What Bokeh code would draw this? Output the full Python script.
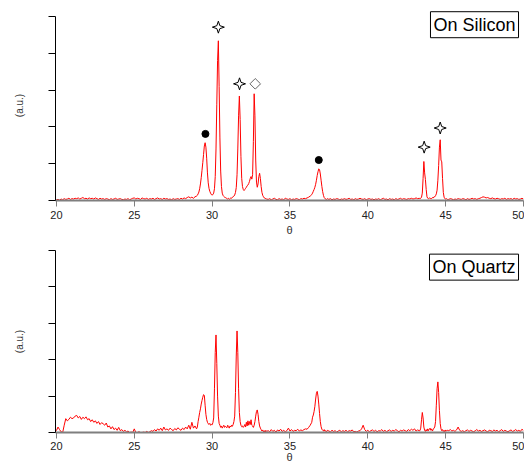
import numpy as np
from bokeh.plotting import figure
from bokeh.layouts import column
from bokeh.models import FixedTicker, Label, Range1d
from bokeh.embed import file_html
from bokeh.resources import INLINE

# ---- sampling grid (2-theta, degrees): coarse on background, fine across peaks ----
seg_a_x = np.round(np.arange(20.0, 29.0001, 0.1), 2)
seg_b_x = np.round(np.arange(29.05, 33.5001, 0.05), 2)
seg_c_x = np.round(np.arange(33.6, 36.4001, 0.1), 2)
seg_d_x = np.round(np.arange(36.45, 37.4001, 0.05), 2)
seg_e_x = np.round(np.arange(37.5, 43.3001, 0.1), 2)
seg_f_x = np.round(np.arange(43.35, 45.1001, 0.05), 2)
seg_g_x = np.round(np.arange(45.2, 50.0001, 0.1), 2)

# ---- film on silicon: intensity (a.u.) ----
si_a = [0.02, 0.03, 0.01, 0.04, 0.02, 0.05, 0.03, 0.04, 0.06, 0.03, 0.05,
        0.04, 0.06, 0.05, 0.07, 0.04, 0.06, 0.08, 0.05, 0.06, 0.04,
        0.07, 0.05, 0.06, 0.04, 0.07, 0.05, 0.03, 0.06, 0.04, 0.05,
        0.03, 0.05, 0.04, 0.02, 0.05, 0.03, 0.04, 0.06, 0.03, 0.04,
        0.05, 0.03, 0.02, 0.04, 0.03, 0.05, 0.02, 0.04, 0.06, 0.07,
        0.04, 0.06, 0.05, 0.03, 0.07, 0.05, 0.04, 0.06, 0.03, 0.05,
        0.04, 0.06, 0.03, 0.05, 0.07, 0.04, 0.05, 0.03, 0.06, 0.04,
        0.05, 0.03, 0.04, 0.02, 0.05, 0.03, 0.04, 0.05, 0.03, 0.06,
        0.04, 0.07, 0.05, 0.08, 0.10, 0.07, 0.09, 0.06, 0.10, 0.12]
si_b = [0.14, 0.18, 0.23, 0.32, 0.45, 0.62, 0.82, 1.03, 1.25, 1.48,
        1.57, 1.45, 1.15, 0.75, 0.48, 0.33, 0.25, 0.20, 0.16, 0.15,
        0.16, 0.20, 0.32, 0.65, 1.40, 2.60, 3.80, 4.34, 3.10, 1.70,
        0.80, 0.38, 0.20, 0.14, 0.11, 0.09, 0.08, 0.07, 0.05, 0.04,
        0.06, 0.03, 0.05, 0.07, 0.06, 0.09, 0.10, 0.12, 0.15, 0.22,
        0.35, 0.70, 1.40, 2.30, 2.84, 2.20, 1.20, 0.60, 0.38, 0.30,
        0.27, 0.30, 0.33, 0.36, 0.40, 0.42, 0.46, 0.52, 0.60, 0.65,
        0.58, 0.70, 1.60, 2.90, 2.30, 1.10, 0.50, 0.36, 0.45, 0.65,
        0.74, 0.60, 0.38, 0.22, 0.14, 0.10, 0.07, 0.06, 0.05, 0.04]
si_c = [0.03, 0.05, 0.02, 0.04, 0.06, 0.03, 0.02, 0.05, 0.03, 0.04,
        0.02, 0.06, 0.04, 0.03, 0.05, 0.02, 0.04, 0.03, 0.05, 0.04,
        0.02, 0.05, 0.04, 0.06, 0.05, 0.07, 0.09, 0.12, 0.16]
si_d = [0.20, 0.25, 0.30, 0.36, 0.44, 0.55, 0.68, 0.78, 0.86, 0.84,
        0.72, 0.55, 0.38, 0.24, 0.14, 0.08, 0.05, 0.04, 0.03, 0.05]
si_e = [0.03, 0.05, 0.02, 0.04, 0.03, 0.05, 0.04, 0.02, 0.04, 0.03,
        0.05, 0.03, 0.04, 0.06, 0.03, 0.04, 0.02, 0.05, 0.03, 0.04,
        0.06, 0.04, 0.03, 0.05, 0.02, 0.04, 0.05, 0.03, 0.04, 0.02,
        0.04, 0.03, 0.05, 0.02, 0.04, 0.06, 0.03, 0.04, 0.02, 0.05,
        0.03, 0.04, 0.02, 0.05, 0.03, 0.04, 0.06, 0.03, 0.05, 0.04,
        0.03, 0.05, 0.04, 0.06, 0.04, 0.05, 0.07, 0.05, 0.06]
si_f = [0.05, 0.06, 0.09, 0.20, 0.60, 1.06, 0.75, 0.57, 0.30, 0.10,
        0.06, 0.05, 0.07, 0.05, 0.06, 0.05, 0.08, 0.07, 0.10, 0.10,
        0.13, 0.18, 0.28, 0.55, 0.95, 1.45, 1.65, 1.10, 1.05, 0.60,
        0.22, 0.09, 0.05, 0.04, 0.05, 0.03]
si_g = [0.03, 0.05, 0.04, 0.02, 0.04, 0.03, 0.05, 0.04, 0.03, 0.05,
        0.04, 0.02, 0.05, 0.03, 0.04, 0.06, 0.04, 0.05, 0.03, 0.05,
        0.06, 0.08, 0.10, 0.09, 0.07, 0.08, 0.06, 0.05, 0.07, 0.05,
        0.04, 0.06, 0.05, 0.03, 0.05, 0.04, 0.06, 0.03, 0.05, 0.04,
        0.05, 0.03, 0.06, 0.04, 0.05, 0.03, 0.04, 0.06, 0.04]

# ---- film on quartz: intensity (a.u.) ----
qz_a = [0.05, 0.15, 0.08, 0.02, 0.00, 0.20, 0.38, 0.32, 0.36, 0.42, 0.38,
        0.40, 0.45, 0.47, 0.40, 0.44, 0.36, 0.42, 0.38, 0.43, 0.35,
        0.38, 0.30, 0.35, 0.28, 0.32, 0.25, 0.30, 0.22, 0.27, 0.24,
        0.20, 0.26, 0.15, 0.18, 0.10, 0.16, 0.08, 0.12, 0.06, 0.14,
        0.05, 0.08, 0.03, 0.06, 0.02, 0.04, 0.00, 0.01, 0.00, 0.10,
        0.00, 0.00, 0.02, 0.00, 0.00, 0.01, 0.00, 0.03, 0.00, 0.02,
        0.05, 0.03, 0.08, 0.04, 0.10, 0.06, 0.12, 0.05, 0.15, 0.07,
        0.10, 0.06, 0.12, 0.08, 0.05, 0.11, 0.07, 0.13, 0.09, 0.06,
        0.12, 0.08, 0.15, 0.10, 0.20, 0.09, 0.28, 0.12, 0.18, 0.10]
qz_b = [0.15, 0.30, 0.42, 0.55, 0.65, 0.78, 0.88, 0.97, 1.04, 1.02,
        0.75, 0.50, 0.36, 0.28, 0.24, 0.22, 0.25, 0.20, 0.22, 0.21,
        0.27, 0.40, 1.20, 2.20, 2.68, 1.90, 1.00, 0.45, 0.25, 0.20,
        0.14, 0.18, 0.12, 0.16, 0.20, 0.14, 0.17, 0.15, 0.13, 0.20,
        0.16, 0.12, 0.18, 0.15, 0.20, 0.17, 0.22, 0.30, 0.45, 1.10,
        2.10, 2.79, 2.20, 1.20, 0.55, 0.30, 0.20, 0.16, 0.18, 0.14,
        0.17, 0.22, 0.15, 0.28, 0.18, 0.32, 0.20, 0.30, 0.22, 0.35,
        0.20, 0.18, 0.14, 0.20, 0.30, 0.45, 0.58, 0.62, 0.50, 0.30,
        0.18, 0.12, 0.08, 0.04, 0.07, 0.02, 0.05, 0.00, 0.06, 0.03]
qz_c = [0.05, 0.02, 0.08, 0.03, 0.06, 0.01, 0.07, 0.04, 0.09, 0.03,
        0.06, 0.02, 0.05, 0.12, 0.04, 0.08, 0.03, 0.06, 0.05, 0.09,
        0.04, 0.07, 0.05, 0.08, 0.10, 0.09, 0.14, 0.20, 0.28]
qz_d = [0.42, 0.48, 0.58, 0.72, 0.92, 1.08, 1.13, 1.00, 0.78, 0.52,
        0.30, 0.16, 0.09, 0.06, 0.04, 0.08, 0.03, 0.05, 0.02, 0.06]
qz_e = [0.04, 0.02, 0.06, 0.03, 0.05, 0.01, 0.04, 0.06, 0.02, 0.05,
        0.03, 0.06, 0.02, 0.05, 0.04, 0.07, 0.02, 0.03, 0.01, 0.04,
        0.05, 0.10, 0.20, 0.08, 0.03, 0.06, 0.02, 0.05, 0.07, 0.03,
        0.06, 0.02, 0.05, 0.04, 0.08, 0.03, 0.06, 0.02, 0.05, 0.07,
        0.03, 0.06, 0.04, 0.08, 0.05, 0.02, 0.06, 0.04, 0.07, 0.05,
        0.03, 0.08, 0.05, 0.09, 0.06, 0.10, 0.04, 0.07, 0.05]
qz_f = [0.05, 0.12, 0.35, 0.55, 0.40, 0.15, 0.06, 0.03, 0.08, 0.04,
        0.10, 0.05, 0.09, 0.12, 0.06, 0.10, 0.04, 0.08, 0.12, 0.15,
        0.30, 0.75, 1.20, 1.39, 1.10, 0.60, 0.25, 0.10, 0.05, 0.08,
        0.03, 0.06, 0.02, 0.07, 0.04, 0.06]
qz_g = [0.05, 0.08, 0.04, 0.06, 0.03, 0.07, 0.15, 0.06, 0.03, 0.05,
        0.02, 0.05, 0.07, 0.03, 0.06, 0.04, 0.02, 0.05, 0.08, 0.04,
        0.06, 0.03, 0.05, 0.07, 0.04, 0.02, 0.06, 0.05, 0.03, 0.07,
        0.04, 0.06, 0.02, 0.05, 0.08, 0.03, 0.06, 0.04, 0.02, 0.05,
        0.07, 0.03, 0.05, 0.08, 0.04, 0.06, 0.03, 0.09, 0.05]

# ---- phase markers on the silicon pattern ----
star_x = [30.40, 31.76, 43.62, 44.65]
star_y = [4.71, 3.17, 1.45, 1.97]
dot_x = [29.57, 36.85]
dot_y = [1.81, 1.10]
diamond_x = [32.77]
diamond_y = [3.17]

x_ticks = [20, 25, 30, 35, 40, 45, 50]
y_ticks = [0, 1, 2, 3, 4, 5]

theta = np.concatenate([seg_a_x, seg_b_x, seg_c_x, seg_d_x, seg_e_x, seg_f_x, seg_g_x])
si_y = np.concatenate([si_a, si_b, si_c, si_d, si_e, si_f, si_g])
qz_y = np.concatenate([qz_a, qz_b, qz_c, qz_d, qz_e, qz_f, qz_g])

FONT = "Liberation Sans"
X_START, X_END = 19.94, 50.0
FRAME_W = 524 - 55 - 1


def make_panel(y, y_top, height, border_top, border_bottom, s1, s2, title, box_top):
    p = figure(width=524, height=height, output_backend="svg", toolbar_location=None,
               x_range=Range1d(X_START, X_END), y_range=Range1d(0, y_top),
               min_border_left=55, min_border_right=1,
               min_border_top=border_top, min_border_bottom=border_bottom)
    p.outline_line_color = None
    p.grid.visible = False
    p.background_fill_color = "white"
    p.border_fill_color = "white"

    p.line(theta, y, line_color="#ff0000", line_width=1)

    xa = p.xaxis[0]
    xa.ticker = FixedTicker(ticks=x_ticks)
    xa.axis_line_color = "#7f7f7f"
    xa.axis_line_width = 2
    xa.major_tick_line_color = "#7f7f7f"
    xa.major_tick_line_width = 1
    xa.major_tick_out = 6
    xa.major_tick_in = 0
    xa.minor_tick_line_color = None
    xa.major_label_text_font = FONT
    xa.major_label_text_font_size = "11px"
    xa.major_label_text_color = "#222222"
    xa.major_label_standoff = s1
    xa.axis_label = "θ"
    xa.axis_label_text_font = FONT
    xa.axis_label_text_font_size = "11px"
    xa.axis_label_text_font_style = "normal"
    xa.axis_label_text_color = "#333333"
    xa.axis_label_standoff = s2

    # intensity axis: tick marks only, no numbers
    ya = p.yaxis[0]
    ya.ticker = FixedTicker(ticks=y_ticks)
    ya.bounds = (0, 5)
    ya.axis_line_color = "black"
    ya.axis_line_width = 1
    ya.major_tick_line_color = "black"
    ya.major_tick_out = 7
    ya.major_tick_in = 0
    ya.minor_tick_line_color = None
    ya.major_label_overrides = {t: "" for t in y_ticks}
    ya.major_label_standoff = 0
    ya.axis_label = "(a.u.)"
    ya.axis_label_text_font = FONT
    ya.axis_label_text_font_size = "10px"
    ya.axis_label_text_font_style = "normal"
    ya.axis_label_text_color = "#333333"
    ya.axis_label_standoff = 24

    p.add_layout(Label(x=49.68, y=box_top, text=title,
                       text_align="right", text_baseline="top",
                       text_font=FONT, text_font_size="18px",
                       text_color="black",
                       background_fill_color="white",
                       border_line_color="black", border_line_width=1,
                       padding=3))
    return p


# top panel: frame spans y = 10 .. 200 px
TOP_H, TOP_BT, TOP_BB = 239, 10, 39
top_ytop = 5.163
top = make_panel(si_y, top_ytop, TOP_H, TOP_BT, TOP_BB, 4, 2, "On Silicon", 5.13)

# four-pointed open stars, built around each marker position (radii in px)
px_x = FRAME_W / (X_END - X_START)
px_y = (TOP_H - TOP_BT - TOP_BB) / top_ytop
ang = np.arange(8) * np.pi / 4 + np.pi / 2
rad = np.where(np.arange(8) % 2 == 0, 6.0, 2.1)
star_xs = [list(cx + rad * np.cos(ang) / px_x) for cx in star_x]
star_ys = [list(cy + rad * np.sin(ang) / px_y) for cy in star_y]
top.patches(star_xs, star_ys, fill_color="white", line_color="black", line_width=1)

top.scatter(dot_x, dot_y, marker="circle", size=7, fill_color="black", line_color="black")
top.scatter(diamond_x, diamond_y, marker="square", angle=np.pi / 4, size=7.5,
            fill_color=None, line_color="#666666", line_width=1)

# bottom panel: frame spans y = 250 .. 432 px
bottom = make_panel(qz_y, 5.0, 466 - TOP_H, 11, 34, 3, -2, "On Quartz", 4.9)

layout = column(top, bottom, spacing=0)
open("out.html", "w").write(file_html(layout, INLINE))
